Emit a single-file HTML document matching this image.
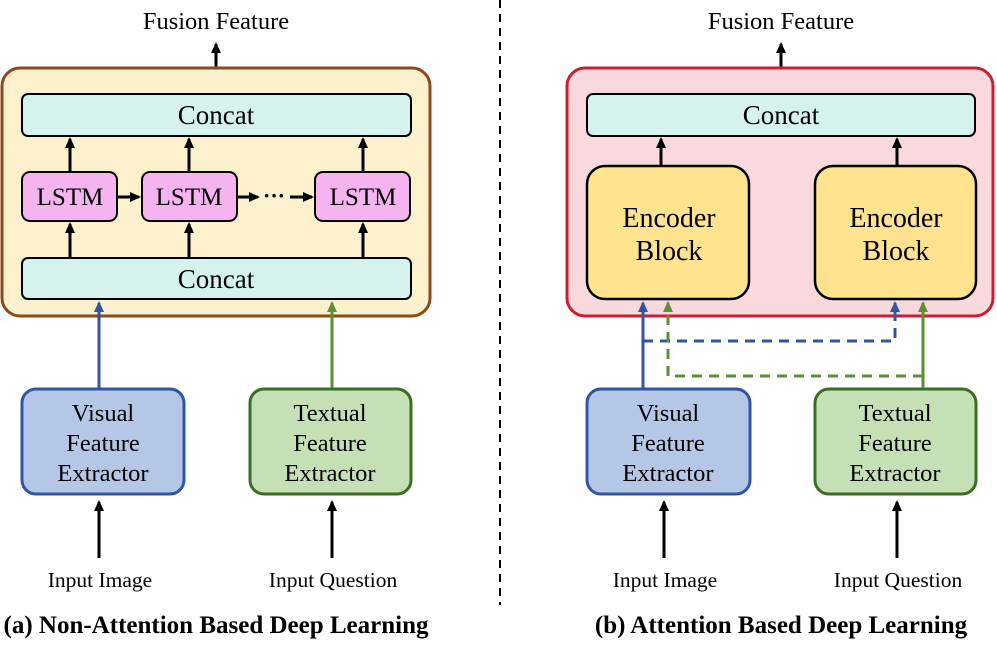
<!DOCTYPE html><html><head><style>body{margin:0;background:#fff}</style></head><body>
<svg width="997" height="640" xmlns="http://www.w3.org/2000/svg" font-family="Liberation Serif, serif">
<defs>
<marker id="k" markerWidth="12" markerHeight="12" refX="9" refY="6" orient="auto" markerUnits="userSpaceOnUse"><path d="M0,1 L11,6 L0,11z" fill="#000"/></marker>
<marker id="b" markerWidth="12" markerHeight="12" refX="9" refY="6" orient="auto" markerUnits="userSpaceOnUse"><path d="M0,1 L11,6 L0,11z" fill="#2f55a4"/></marker>
<marker id="g" markerWidth="12" markerHeight="12" refX="9" refY="6" orient="auto" markerUnits="userSpaceOnUse"><path d="M0,1 L11,6 L0,11z" fill="#5a9133"/></marker>
</defs>
<line x1="500" y1="0" x2="500" y2="605" stroke="#000" stroke-width="2" stroke-dasharray="8,6"/>
<!-- LEFT -->
<text x="216" y="29" font-size="24.5" text-anchor="middle">Fusion Feature</text>
<line x1="216" y1="68" x2="216" y2="44" stroke="#000" stroke-width="3" marker-end="url(#k)"/>
<rect x="2" y="68" width="428" height="248" rx="18" fill="#fdf0cd" stroke="#8b4a1c" stroke-width="3"/>
<rect x="22" y="94" width="389" height="42" rx="6" fill="#d5f2ef" stroke="#000" stroke-width="2"/>
<text x="216" y="124" font-size="27" text-anchor="middle">Concat</text>
<rect x="22" y="258" width="389" height="41" rx="6" fill="#d5f2ef" stroke="#000" stroke-width="2"/>
<text x="216" y="288" font-size="27" text-anchor="middle">Concat</text>
<g stroke="#000" stroke-width="3">
<line x1="70" y1="172" x2="70" y2="139" marker-end="url(#k)"/><line x1="189" y1="172" x2="189" y2="139" marker-end="url(#k)"/><line x1="363" y1="172" x2="363" y2="139" marker-end="url(#k)"/>
<line x1="70" y1="258" x2="70" y2="224" marker-end="url(#k)"/><line x1="189" y1="258" x2="189" y2="224" marker-end="url(#k)"/><line x1="363" y1="258" x2="363" y2="224" marker-end="url(#k)"/>
<line x1="117" y1="197" x2="139" y2="197" marker-end="url(#k)"/><line x1="237" y1="197" x2="258" y2="197" marker-end="url(#k)"/><line x1="290" y1="197" x2="312" y2="197" marker-end="url(#k)"/>
</g>
<text x="274" y="203" font-size="22" text-anchor="middle" font-weight="bold">···</text>
<g fill="#f5b3f0" stroke="#000" stroke-width="2">
<rect x="22" y="172" width="95" height="49" rx="8"/><rect x="142" y="172" width="95" height="49" rx="8"/><rect x="315" y="172" width="95" height="49" rx="8"/></g>
<g font-size="25" text-anchor="middle"><text x="70" y="205">LSTM</text><text x="189" y="205">LSTM</text><text x="363" y="205">LSTM</text></g>
<line x1="99" y1="389" x2="99" y2="303" stroke="#2f55a4" stroke-width="3" marker-end="url(#b)"/>
<line x1="332" y1="389" x2="332" y2="303" stroke="#5a9133" stroke-width="3" marker-end="url(#g)"/>
<rect x="22" y="389" width="162" height="105" rx="14" fill="#b4c7e7" stroke="#2f55a4" stroke-width="3"/>
<rect x="250" y="389" width="161" height="105" rx="14" fill="#c5e0b4" stroke="#3b6e22" stroke-width="3"/>
<g font-size="24.5" text-anchor="middle"><text x="103" y="421">Visual</text><text x="103" y="451">Feature</text><text x="103" y="481">Extractor</text>
<text x="330" y="421">Textual</text><text x="330" y="451">Feature</text><text x="330" y="481">Extractor</text></g>
<line x1="99" y1="558" x2="99" y2="502" stroke="#000" stroke-width="3" marker-end="url(#k)"/>
<line x1="332" y1="558" x2="332" y2="502" stroke="#000" stroke-width="3" marker-end="url(#k)"/>
<g font-size="21.5" text-anchor="middle"><text x="100" y="587">Input Image</text><text x="333" y="587">Input Question</text></g>
<text x="216" y="633" font-size="25" font-weight="bold" text-anchor="middle">(a) Non-Attention Based Deep Learning</text>
<!-- RIGHT -->
<text x="781" y="29" font-size="24.5" text-anchor="middle">Fusion Feature</text>
<line x1="781" y1="68" x2="781" y2="44" stroke="#000" stroke-width="3" marker-end="url(#k)"/>
<rect x="567" y="68" width="426" height="248" rx="18" fill="#f9d9de" stroke="#c8202e" stroke-width="3"/>
<rect x="587" y="94" width="388" height="42" rx="6" fill="#d5f2ef" stroke="#000" stroke-width="2"/>
<text x="781" y="124" font-size="27" text-anchor="middle">Concat</text>
<line x1="661" y1="166" x2="661" y2="139" stroke="#000" stroke-width="3" marker-end="url(#k)"/>
<line x1="897" y1="166" x2="897" y2="139" stroke="#000" stroke-width="3" marker-end="url(#k)"/>
<rect x="587" y="166" width="162" height="133" rx="18" fill="#ffe38f" stroke="#000" stroke-width="2.5"/>
<rect x="815" y="166" width="161" height="133" rx="18" fill="#ffe38f" stroke="#000" stroke-width="2.5"/>
<g font-size="28" text-anchor="middle"><text x="669" y="227">Encoder</text><text x="669" y="260">Block</text><text x="896" y="227">Encoder</text><text x="896" y="260">Block</text></g>
<path d="M643,341 H895 V303" fill="none" stroke="#2f55a4" stroke-width="3" stroke-dasharray="10,7" marker-end="url(#b)"/>
<path d="M923,376 H668 V303" fill="none" stroke="#5a9133" stroke-width="3" stroke-dasharray="10,7" marker-end="url(#g)"/>
<line x1="643" y1="389" x2="643" y2="303" stroke="#2f55a4" stroke-width="3" marker-end="url(#b)"/>
<line x1="923" y1="389" x2="923" y2="303" stroke="#5a9133" stroke-width="3" marker-end="url(#g)"/>
<rect x="587" y="389" width="163" height="105" rx="14" fill="#b4c7e7" stroke="#2f55a4" stroke-width="3"/>
<rect x="815" y="389" width="161" height="105" rx="14" fill="#c5e0b4" stroke="#3b6e22" stroke-width="3"/>
<g font-size="24.5" text-anchor="middle"><text x="668" y="421">Visual</text><text x="668" y="451">Feature</text><text x="668" y="481">Extractor</text>
<text x="895" y="421">Textual</text><text x="895" y="451">Feature</text><text x="895" y="481">Extractor</text></g>
<line x1="664" y1="558" x2="664" y2="502" stroke="#000" stroke-width="3" marker-end="url(#k)"/>
<line x1="897" y1="558" x2="897" y2="502" stroke="#000" stroke-width="3" marker-end="url(#k)"/>
<g font-size="21.5" text-anchor="middle"><text x="665" y="587">Input Image</text><text x="898" y="587">Input Question</text></g>
<text x="781" y="633" font-size="25" font-weight="bold" text-anchor="middle">(b) Attention Based Deep Learning</text>
</svg>
</body></html>
